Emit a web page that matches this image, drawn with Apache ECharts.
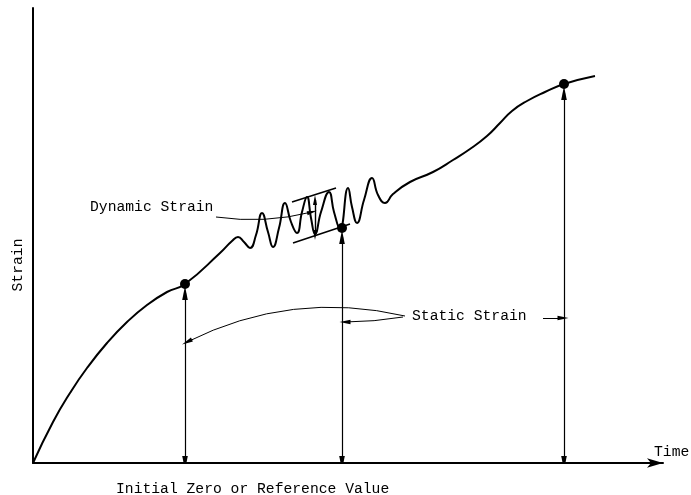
<!DOCTYPE html>
<html>
<head>
<meta charset="utf-8">
<script src="https://cdn.jsdelivr.net/npm/echarts@6/dist/echarts.min.js"></script>
<style>
	html, body { margin: 0; padding: 0; background: #fff; }
	#myChart { width: 691px; height: 495px; }
</style>
</head>
<body>
<div id="myChart"></div>
<script type="text/javascript">
	// strain record (arbitrary units): time / strain
	var timeData = [0, 4, 7.4, 10.8, 14.8, 18.8, 22.8, 26.8, 30.4, 37.4, 39.8, 41, 42.2, 43.4, 44.6, 45.8, 47, 48, 49.2, 50.4,
		51.6, 52.8, 53.8, 54.8, 55.6, 56.4, 57.6, 59.2, 60.2, 61.4, 63, 63.8, 64.8, 66.2, 67.8, 69, 70.4, 72, 75.4, 80,
		84, 87.4, 90.8, 93.4, 95.8, 98.8, 102.4, 106.2, 112.4];
	var strainData = [0, 8.2, 14, 19, 24, 28.2, 31.6, 34.2, 35.8, 42, 44.4, 45.2, 44.2, 43, 45.6, 50, 46.2, 43.2, 47, 52,
		48.2, 46, 50.2, 53.2, 49, 45.8, 50.2, 54.2, 50.2, 46.8, 55, 51.2, 48, 52.6, 57, 53.6, 52, 53.8, 56.2, 58.2,
		60.6, 62.8, 65.4, 68, 70.4, 72.4, 74.2, 75.8, 77.4];

	// static strain readings
	var readTime = [30.4, 61.8, 106.2];
	var readStrain = [35.8, 47, 75.8];

	// dynamic strain band (two envelope lines) and its amplitude
	var bandUpper = [[51.8, 52.2], [60.6, 55]];
	var bandLower = [[52, 44], [63.4, 47.8]];
	var amplitude = [[56.4, 52.6], [56.4, 45.6]];

	// leaders from the labels
	var dynLeader = [[36.6, 49.2], [55.8, 50.2]];
	var staticLeaders = [
		[[74.4, 29.4], [30.8, 24.2]],
		[[74, 29.2], [62.4, 28.2]],
		[[102, 29], [106, 29]]
	];

	var font = '14.7px "Liberation Mono", "DejaVu Sans Mono", monospace';
	var arrowHead = 'path://M0,0 L2,10 L-2,10 Z M-5,0 M5,10';

	var curve = timeData.map(function (t, i) { return [t, strainData[i]]; });
	var points = readTime.map(function (t, i) { return [t, readStrain[i]]; });
	var readArrows = readTime.map(function (t, i) {
		return { coords: [[t, readStrain[i] - 1.8], [t, 0]] };
	});

	function label(text, x, y, extra) {
		var el = { type: 'text', x: x, y: y, style: { text: text, font: font, fill: '#000', align: 'left', verticalAlign: 'middle' } };
		return echarts.util.merge(el, extra || {}, true);
	}

	var myChart = echarts.init(document.getElementById('myChart'));
	var option = {
		animation: false,
		grid: { left: 33, right: 28, top: 8, bottom: 32 },
		xAxis: {
			type: 'value', min: 0, max: 126,
			axisLine: { show: true, lineStyle: { color: '#000', width: 2 }, symbol: ['none', 'arrow'], symbolSize: [7, 16] },
			axisTick: { show: false }, axisLabel: { show: false }, splitLine: { show: false }
		},
		yAxis: {
			type: 'value', min: 0, max: 91,
			axisLine: { show: true, lineStyle: { color: '#000', width: 2 } },
			axisTick: { show: false }, axisLabel: { show: false }, splitLine: { show: false }
		},
		graphic: [
			label('Strain', 18, 265, { rotation: Math.PI / 2, style: { align: 'center' } }),
			label('Time', 654, 452),
			label('Dynamic Strain', 90, 207),
			label('Static Strain', 412, 316),
			label('Initial Zero or Reference Value', 116, 489)
		],
		series: [
			{
				name: 'strain', type: 'line', data: curve, smooth: 0.5, symbol: 'none',
				lineStyle: { color: '#000', width: 2 }
			},
			{
				name: 'readings', type: 'scatter', data: points, symbolSize: 10,
				itemStyle: { color: '#000', opacity: 1 }, z: 5
			},
			{
				name: 'readArrows', type: 'lines', coordinateSystem: 'cartesian2d', data: readArrows,
				symbol: [arrowHead, arrowHead], symbolSize: 14,
				lineStyle: { color: '#000', width: 1.2, opacity: 1 }
			},
			{
				name: 'band', type: 'lines', coordinateSystem: 'cartesian2d',
				data: [{ coords: bandUpper }, { coords: bandLower }],
				symbol: 'none', lineStyle: { color: '#000', width: 1.5, opacity: 1 }
			},
			{
				name: 'amplitude', type: 'lines', coordinateSystem: 'cartesian2d',
				data: [{ coords: amplitude }],
				symbol: [arrowHead, arrowHead], symbolSize: 10,
				lineStyle: { color: '#000', width: 1.4, opacity: 1 }
			},
			{
				name: 'dynLeader', type: 'lines', coordinateSystem: 'cartesian2d',
				data: [{ coords: dynLeader }],
				symbol: ['none', arrowHead], symbolSize: 10,
				lineStyle: { color: '#000', width: 1, opacity: 1, curveness: -0.1 }
			},
			{
				name: 'staticLeaders', type: 'lines', coordinateSystem: 'cartesian2d',
				data: [
					{ coords: staticLeaders[0], lineStyle: { curveness: -0.18 } },
					{ coords: staticLeaders[1], lineStyle: { curveness: 0.04 } },
					{ coords: staticLeaders[2] }
				],
				symbol: ['none', arrowHead], symbolSize: 11,
				lineStyle: { color: '#000', width: 1, opacity: 1 }
			}
		]
	};
	myChart.setOption(option);
</script>
</body>
</html>
